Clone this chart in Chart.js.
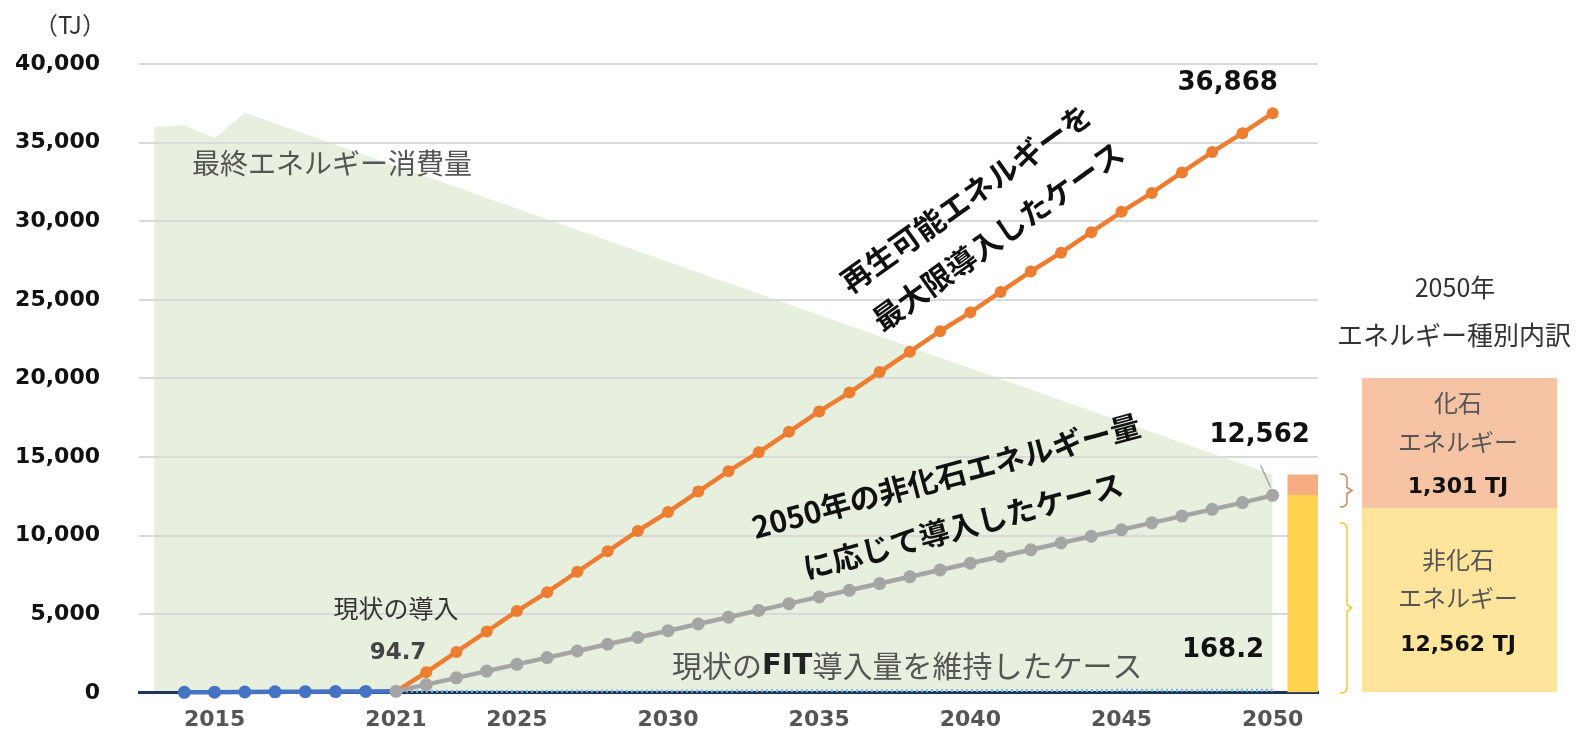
<!DOCTYPE html>
<html lang="ja">
<head>
<meta charset="utf-8">
<title>再生可能エネルギー導入ケース</title>
<script src="https://cdn.jsdelivr.net/npm/chart.js@4.4.1/dist/chart.umd.min.js"></script>
<style>
  html, body { margin: 0; padding: 0; background: #fff; }
  #wrap { position: relative; width: 1596px; height: 745px; }
</style>
</head>
<body>
<div id="wrap"><canvas id="chart"></canvas></div>
<script>
// x categories: 2013 is the left edge of the consumption area, 2051 holds the breakdown bar
const years = [
  "2013", "2014", "2015", "2016", "2017", "2018", "2019", "2020", "2021", "2022",
  "2023", "2024", "2025", "2026", "2027", "2028", "2029", "2030", "2031", "2032",
  "2033", "2034", "2035", "2036", "2037", "2038", "2039", "2040", "2041", "2042",
  "2043", "2044", "2045", "2046", "2047", "2048", "2049", "2050", "2051",
];
const tickYears = ["2015", "2021", "2025", "2030", "2035", "2040", "2045", "2050"];
const yTicks = [0, 5000, 10000, 15000, 20000, 25000, 30000, 35000, 40000];

// 最終エネルギー消費量 (straight decline between 2016 and 2050)
const finalConsumption = [
  36000, 36100, 35300, 36900,
  null, null, null, null, null, null, null, null, null, null, null,
  null, null, null, null, null, null, null, null, null, null, null,
  null, null, null, null, null, null, null, null, null, null, null,
  13863, null,
];

// 再生可能エネルギーを最大限導入したケース
const maxCase = [
  null, null, null, null, null, null, null, null, 94.7,
  1300, 2600, 3900, 5200, 6400, 7700, 9000, 10300, 11500, 12800,
  14100, 15300, 16600, 17900, 19100, 20400, 21700, 23000, 24200, 25500,
  26800, 28000, 29300, 30600, 31800, 33100, 34400, 35600, 36868, null,
];

// 2050年の非化石エネルギー量に応じて導入したケース
const nonFossilCase = [
  null, null, null, null, null, null, null, null, 94.7,
  520, 950, 1380, 1810, 2240, 2660, 3090, 3520, 3950, 4380,
  4810, 5240, 5670, 6100, 6520, 6950, 7380, 7810, 8240, 8670,
  9100, 9530, 9960, 10380, 10810, 11240, 11670, 12100, 12562, null,
];

// 現状のFIT導入量を維持したケース (actuals up to 2021, then kept)
const fitCase = [
  null, 30, 40, 50, 60, 70, 80, 90, 94.7,
  97, 99, 102, 104, 107, 109, 112, 114, 117, 119,
  122, 124, 127, 129, 132, 134, 137, 139, 142, 144,
  147, 150, 152, 155, 157, 160, 162, 165, 168.2, null,
];

// 2050年 エネルギー種別内訳
const breakdownSlot = "2051";
const nonFossil2050 = 12562;
const fossil2050 = 1301;

const ACTUAL_END = 8; // index of 2021

const JP = "'Noto Sans CJK JP', 'Noto Sans', sans-serif";
const NUM = "'DejaVu Sans', sans-serif";

function drawText(ctx, str, x, y, font, color, align = "center", angle = 0) {
  ctx.save();
  ctx.translate(x, y);
  if (angle) ctx.rotate((angle * Math.PI) / 180);
  ctx.font = font;
  ctx.fillStyle = color;
  ctx.textAlign = align;
  ctx.textBaseline = "middle";
  ctx.fillText(str, 0, 0);
  ctx.restore();
}

function brace(ctx, x, top, bottom, color) {
  const mid = (top + bottom) / 2;
  ctx.save();
  ctx.strokeStyle = color;
  ctx.lineWidth = 1.5;
  ctx.beginPath();
  ctx.moveTo(x, top);
  ctx.quadraticCurveTo(x + 7, top, x + 7, top + 5);
  ctx.lineTo(x + 7, mid - 3);
  ctx.lineTo(x + 12, mid);
  ctx.lineTo(x + 7, mid + 3);
  ctx.lineTo(x + 7, bottom - 5);
  ctx.quadraticCurveTo(x + 7, bottom, x, bottom);
  ctx.stroke();
  ctx.restore();
}

const annotations = {
  id: "annotations",
  afterDatasetsDraw(chart) {
    const ctx = chart.ctx;

    // area label
    drawText(ctx, "最終エネルギー消費量", 192, 163, `28px ${JP}`, "#555", "left");

    // rotated series labels
    drawText(ctx, "再生可能エネルギーを", 966, 198, `bold 30px ${JP}`, "#111", "center", -35.5);
    drawText(ctx, "最大限導入したケース", 998, 236, `bold 30px ${JP}`, "#111", "center", -35.5);
    drawText(ctx, "2050年の非化石エネルギー量", 946, 476, `bold 30px ${JP}`, "#111", "center", -15);
    drawText(ctx, "に応じて導入したケース", 963, 526, `bold 30px ${JP}`, "#111", "center", -15);

    // 2021 actual
    drawText(ctx, "現状の導入", 396, 608, `25px ${JP}`, "#333");
    drawText(ctx, "94.7", 398, 653, `bold 23px ${NUM}`, "#444");

    // end values
    const orangeEnd = chart.getDatasetMeta(1).data[37];
    const grayEnd = chart.getDatasetMeta(0).data[37];
    drawText(ctx, "36,868", orangeEnd.x - 45, orangeEnd.y - 30, `bold 26px ${NUM}`, "#111");
    drawText(ctx, "12,562", grayEnd.x - 13, grayEnd.y - 60, `bold 26px ${NUM}`, "#111");
    ctx.save();
    ctx.strokeStyle = "#a8a8a8";
    ctx.lineWidth = 1.5;
    ctx.beginPath();
    ctx.moveTo(grayEnd.x - 12, grayEnd.y - 30);
    ctx.lineTo(grayEnd.x - 2, grayEnd.y - 8);
    ctx.stroke();
    ctx.restore();
    drawText(ctx, "168.2", 1223, 650, `bold 26px ${NUM}`, "#111");

    // FIT label with bold "FIT"
    ctx.save();
    ctx.textBaseline = "middle";
    ctx.textAlign = "left";
    let x = 672;
    const y = 666;
    const parts = [
      ["現状の", `30px ${JP}`, "#555"],
      ["FIT", `bold 29px ${NUM}`, "#222"],
      ["導入量を維持したケース", `30px ${JP}`, "#555"],
    ];
    for (const [s, f, c] of parts) {
      ctx.font = f;
      ctx.fillStyle = c;
      ctx.fillText(s, x, y);
      x += ctx.measureText(s).width;
    }
    ctx.restore();

    // unit
    drawText(ctx, "（TJ）", 70, 25, `24px ${JP}`, "#333");

    // right panel
    drawText(ctx, "2050年", 1455, 287, `25px ${JP}`, "#333");
    drawText(ctx, "エネルギー種別内訳", 1454, 335, `26px ${JP}`, "#333");

    ctx.save();
    ctx.fillStyle = "#F6C4A4";
    ctx.fillRect(1362, 378, 195, 130);
    ctx.fillStyle = "#FFE59C";
    ctx.fillRect(1362, 508, 195, 184);
    ctx.restore();

    drawText(ctx, "化石", 1458, 403, `24px ${JP}`, "#555");
    drawText(ctx, "エネルギー", 1458, 442, `24px ${JP}`, "#555");
    drawText(ctx, "1,301 TJ", 1458, 487, `bold 22px ${NUM}`, "#111");
    drawText(ctx, "非化石", 1458, 560, `24px ${JP}`, "#555");
    drawText(ctx, "エネルギー", 1458, 598, `24px ${JP}`, "#555");
    drawText(ctx, "12,562 TJ", 1458, 645, `bold 22px ${NUM}`, "#111");

    brace(ctx, 1340, 474, 507, "#C98A5E");
    brace(ctx, 1340, 523, 693, "#F0C93A");
  },
};

Chart.defaults.font.family = NUM;

new Chart(document.getElementById("chart"), {
  data: {
    labels: years,
    datasets: [
      {
        type: "line",
        label: "2050年の非化石エネルギー量に応じて導入したケース",
        data: nonFossilCase,
        stack: "nonfossil",
        clip: false,
        borderColor: "#A5A5A5",
        backgroundColor: "#A5A5A5",
        borderWidth: 4.5,
        pointRadius: 6.5,
        pointBorderWidth: 0,
        pointBackgroundColor: "#A5A5A5",
        tension: 0,
      },
      {
        type: "line",
        label: "再生可能エネルギーを最大限導入したケース",
        data: maxCase,
        stack: "max",
        clip: false,
        borderColor: "#ED7D31",
        backgroundColor: "#ED7D31",
        borderWidth: 4.5,
        pointRadius: 6,
        pointBorderWidth: 0,
        pointBackgroundColor: "#ED7D31",
        tension: 0,
      },
      {
        type: "line",
        label: "現状のFIT導入量を維持したケース",
        data: fitCase,
        stack: "fit",
        clip: false,
        borderColor: "#4472C4",
        backgroundColor: "#4472C4",
        borderWidth: 4.5,
        pointRadius: (c) => (c.dataIndex < ACTUAL_END ? 6.5 : 0),
        pointBorderWidth: 0,
        pointBackgroundColor: "#4472C4",
        tension: 0,
        segment: {
          borderColor: (c) => (c.p0DataIndex >= ACTUAL_END ? "#7DB9E8" : undefined),
          borderDash: (c) => (c.p0DataIndex >= ACTUAL_END ? [2, 3] : undefined),
          borderWidth: (c) => (c.p0DataIndex >= ACTUAL_END ? 3 : undefined),
        },
      },
      {
        type: "bar",
        label: "化石エネルギー",
        data: [{ x: breakdownSlot, y: nonFossil2050 }],
        stack: "breakdown",
        backgroundColor: "#FFD24F",
        barPercentage: 1,
        categoryPercentage: 1,
        order: 5,
      },
      {
        type: "bar",
        label: "非化石エネルギー",
        data: [{ x: breakdownSlot, y: fossil2050 }],
        stack: "breakdown",
        backgroundColor: "#F4AC80",
        barPercentage: 1,
        categoryPercentage: 1,
        order: 5,
      },
      {
        type: "line",
        label: "最終エネルギー消費量",
        data: finalConsumption,
        stack: "consumption",
        spanGaps: true,
        fill: "origin",
        backgroundColor: "#E7EFDE",
        borderWidth: 0,
        pointRadius: 0,
        tension: 0,
        order: 10,
      },
    ],
  },
  options: {
    responsive: true,
    maintainAspectRatio: false,
    animation: false,
    layout: { padding: { top: 64, right: 278, bottom: 0, left: 0 } },
    plugins: {
      legend: { display: false },
      tooltip: { enabled: false },
      filler: { drawTime: "beforeDraw" },
    },
    scales: {
      x: {
        type: "category",
        offset: true,
        grid: { display: false, drawTicks: false },
        border: { display: true, color: "#1F3459", width: 3 },
        ticks: {
          autoSkip: false,
          maxRotation: 0,
          padding: 14,
          color: "#555",
          font: { size: 22, weight: "bold" },
          callback(value) {
            const label = this.getLabelForValue(value);
            return tickYears.includes(label) ? label : "";
          },
        },
        afterFit(scale) {
          scale.height = 52;
        },
      },
      y: {
        stacked: true,
        min: yTicks[0],
        max: yTicks[yTicks.length - 1],
        grid: { color: "#D9D9D9", lineWidth: 2, drawTicks: false },
        border: { display: false },
        afterBuildTicks(scale) {
          scale.ticks = yTicks.map((v) => ({ value: v }));
        },
        ticks: {
          padding: 39,
          color: "#111",
          font: { size: 22, weight: "bold" },
          callback: (v) => v.toLocaleString("en-US"),
        },
        afterFit(scale) {
          scale.width = 139;
        },
      },
    },
  },
  plugins: [annotations],
});
</script>
</body>
</html>
